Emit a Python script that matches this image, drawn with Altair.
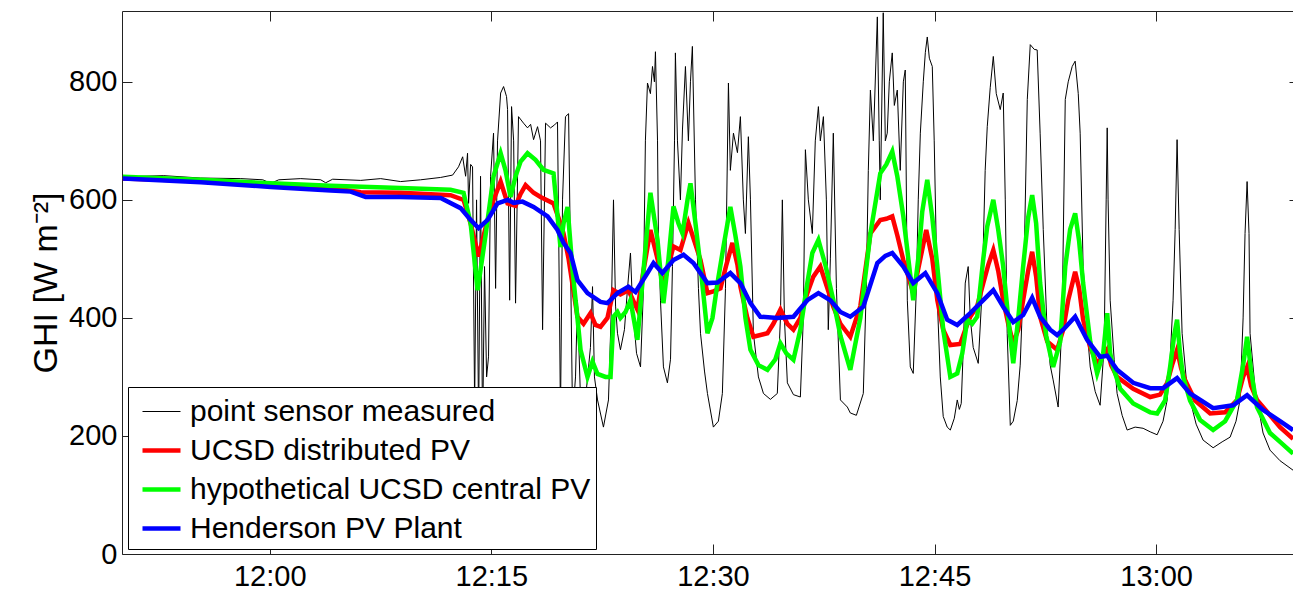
import altair as alt
import pandas as pd

SERIES = ["point sensor measured", "UCSD distributed PV",
          "hypothetical UCSD central PV", "Henderson PV Plant"]
COLORS = ["#000000", "#ff0000", "#00ff00", "#0000ff"]
WIDTHS = [1, 4.5, 4.5, 4.5]
Y_TICKS = [0, 200, 400, 600, 800]
X_TICK_MIN = [0, 15, 30, 45, 60]  # minutes after 12:00 -> 12:00 ... 13:00

# (minutes after 12:00, GHI W m-2)
BLACK = [(-9.94, 638), (-8.73, 640), (-7.17, 641), (-4.67, 637), (-1.96, 636), (-0.47, 634), (0.07, 628),
         (0.61, 634), (2.10, 636), (3.45, 634), (3.79, 629), (4.26, 635), (6.16, 633), (7.51, 636), (8.86, 631),
         (10.21, 634), (11.57, 638), (12.38, 642), (12.78, 656), (13.06, 673), (13.26, 640), (13.39, 679),
         (13.46, 594), (13.60, 660), (13.73, 656), (13.87, 250), (14.00, 600), (14.14, 220), (14.27, 640),
         (14.41, 200), (14.54, 487), (14.68, 300), (14.81, 334), (14.95, 640), (15.15, 713), (15.29, 450),
         (15.42, 700), (15.63, 781), (15.83, 792), (16.03, 775), (16.10, 753), (16.24, 430), (16.37, 758),
         (16.51, 700), (16.64, 425), (16.84, 741), (17.18, 730), (17.45, 722), (17.66, 728), (17.86, 702),
         (18.13, 724), (18.33, 700), (18.47, 380), (18.67, 730), (19.01, 722), (19.28, 727), (19.48, 732),
         (19.62, 400), (19.68, 230), (19.82, 600), (20.02, 741), (20.23, 746), (20.36, 500), (20.50, 230),
         (20.70, 300), (20.83, 430), (21.04, 260), (21.17, 230), (21.44, 280), (21.71, 350), (21.85, 453),
         (21.98, 300), (22.19, 261), (22.59, 215), (22.93, 261), (23.13, 420), (23.27, 600), (23.41, 420),
         (23.54, 374), (23.74, 346), (24.01, 380), (24.22, 450), (24.42, 510), (24.56, 420), (24.83, 340),
         (25.10, 317), (25.30, 450), (25.43, 700), (25.57, 798), (25.77, 780), (25.91, 826), (26.04, 800),
         (26.11, 851), (26.25, 700), (26.31, 543), (26.45, 430), (26.65, 317), (26.92, 290), (27.13, 330),
         (27.26, 487), (27.40, 700), (27.46, 849), (27.60, 700), (27.80, 600), (27.94, 720), (28.14, 826),
         (28.34, 700), (28.48, 800), (28.61, 860), (28.82, 600), (29.02, 450), (29.16, 374), (29.43, 310),
         (29.63, 272), (30.03, 215), (30.37, 225), (30.64, 272), (30.85, 450), (31.05, 798), (31.18, 650),
         (31.39, 713), (31.66, 680), (31.86, 741), (32.06, 600), (32.20, 543), (32.40, 707), (32.54, 600),
         (32.74, 374), (33.08, 300), (33.42, 272), (33.89, 262), (34.36, 272), (34.57, 400), (34.70, 600),
         (34.84, 400), (35.04, 290), (35.45, 270), (35.92, 266), (36.12, 400), (36.26, 685), (36.46, 600),
         (36.73, 543), (36.93, 700), (37.14, 758), (37.27, 700), (37.48, 741), (37.68, 600), (37.81, 380),
         (37.95, 500), (38.15, 713), (38.36, 450), (38.63, 261), (39.10, 249), (39.30, 239), (39.71, 235),
         (40.18, 272), (40.38, 450), (40.52, 650), (40.66, 786), (40.86, 700), (41.13, 910), (41.26, 700),
         (41.33, 600), (41.53, 917), (41.67, 700), (41.80, 713), (41.94, 800), (42.14, 849), (42.28, 760),
         (42.48, 786), (42.68, 650), (42.89, 800), (43.02, 820), (43.16, 430), (43.36, 317), (43.56, 306),
         (43.77, 450), (43.90, 600), (44.04, 713), (44.24, 800), (44.38, 850), (44.51, 876), (44.65, 840),
         (44.85, 826), (44.98, 700), (45.19, 430), (45.39, 300), (45.59, 233), (45.86, 215), (46.07, 210),
         (46.34, 230), (46.54, 261), (46.68, 245), (46.81, 255), (46.95, 350), (47.08, 459), (47.28, 487),
         (47.42, 400), (47.62, 350), (47.96, 323), (48.23, 450), (48.43, 650), (48.57, 724), (48.77, 790),
         (48.98, 843), (49.18, 780), (49.45, 753), (49.65, 781), (49.79, 600), (49.92, 374), (50.13, 218),
         (50.33, 225), (50.60, 260), (50.80, 320), (51.07, 500), (51.28, 770), (51.48, 863), (51.75, 855),
         (51.95, 854), (52.15, 713), (52.36, 550), (52.63, 374), (52.83, 320), (53.03, 295), (53.37, 249),
         (53.64, 400), (53.85, 770), (54.05, 800), (54.32, 826), (54.52, 835), (54.73, 780), (54.86, 713),
         (55.06, 487), (55.33, 380), (55.54, 317), (55.88, 275), (56.21, 252), (56.48, 350), (56.62, 600),
         (56.69, 722), (56.75, 600), (56.89, 430), (57.16, 330), (57.36, 272), (57.70, 235), (58.04, 210),
         (58.58, 215), (59.12, 213), (59.60, 207), (60.07, 202), (60.47, 225), (60.75, 261), (60.95, 330),
         (61.15, 430), (61.29, 550), (61.42, 702), (61.56, 550), (61.76, 374), (62.03, 300), (62.30, 261),
         (62.71, 220), (63.18, 193), (63.86, 180), (64.47, 190), (65.01, 198), (65.41, 225), (65.68, 261),
         (65.89, 400), (66.02, 543), (66.16, 631), (66.29, 543), (66.36, 374), (66.70, 280), (67.24, 205),
         (67.71, 176), (68.39, 158), (69.27, 142)]

RED = [(-9.94, 636), (-4.67, 632), (0.07, 626), (4.13, 620), (6.16, 613), (8.86, 612), (12.24, 608), (13.12, 600),
       (13.60, 560), (14.14, 504), (14.68, 560), (15.15, 600), (15.63, 631), (16.10, 594), (16.64, 590),
       (16.98, 610), (17.32, 625), (17.86, 612), (18.33, 605), (19.21, 594), (19.68, 560), (19.89, 543),
       (20.23, 500), (20.83, 402), (21.24, 390), (21.71, 408), (22.05, 388), (22.39, 385), (22.86, 400),
       (23.27, 447), (23.74, 440), (24.28, 447), (24.89, 414), (25.30, 480), (25.77, 549), (26.25, 500),
       (26.65, 453), (26.99, 490), (27.33, 521), (27.80, 515), (28.34, 561), (28.75, 530), (29.16, 498),
       (29.63, 442), (30.03, 445), (30.51, 450), (30.91, 490), (31.32, 527), (31.66, 490), (31.86, 453),
       (32.33, 400), (32.74, 368), (33.69, 374), (34.09, 390), (34.57, 414), (35.04, 390), (35.45, 380),
       (35.92, 400), (36.39, 442), (36.80, 470), (37.27, 487), (37.75, 450), (38.15, 419), (38.63, 390),
       (39.30, 368), (39.98, 420), (40.66, 543), (41.33, 566), (41.74, 568), (42.14, 572), (42.48, 540),
       (42.89, 498), (43.23, 470), (43.56, 442), (44.04, 500), (44.44, 549), (44.85, 500), (45.19, 430),
       (45.59, 380), (46.07, 354), (46.74, 356), (47.08, 380), (47.42, 402), (47.89, 420), (48.30, 459),
       (48.64, 490), (48.98, 515), (49.31, 480), (49.65, 430), (49.99, 390), (50.33, 357), (50.67, 380),
       (51.00, 430), (51.34, 480), (51.61, 512), (51.88, 470), (52.15, 402), (52.63, 360), (53.30, 346),
       (53.71, 380), (54.05, 430), (54.52, 478), (54.79, 450), (55.06, 397), (55.54, 350), (56.01, 323),
       (56.42, 335), (56.69, 346), (56.96, 320), (57.36, 300), (58.45, 280), (59.60, 266), (60.27, 270),
       (60.75, 290), (61.08, 320), (61.42, 346), (61.69, 315), (61.96, 295), (62.64, 260), (63.66, 238),
       (64.67, 240), (65.48, 261), (65.89, 300), (66.16, 317), (66.43, 285), (66.83, 261), (67.71, 235),
       (68.39, 215), (69.27, 195)]

GREEN = [(-9.94, 639), (-4.67, 634), (0.07, 628), (4.13, 624), (8.86, 620), (12.24, 617), (13.12, 612),
         (13.60, 560), (14.07, 447), (14.61, 540), (15.15, 640), (15.63, 679), (15.96, 650), (16.30, 605),
         (16.64, 640), (16.98, 665), (17.45, 679), (17.99, 668), (18.53, 651), (19.21, 645), (19.68, 520),
         (19.89, 560), (20.16, 588), (20.50, 480), (20.83, 400), (21.04, 346), (21.51, 300), (21.85, 326),
         (22.19, 305), (22.73, 300), (23.07, 300), (23.27, 402), (23.54, 410), (23.74, 400), (24.08, 410),
         (24.42, 430), (24.89, 363), (25.30, 480), (25.77, 612), (26.25, 532), (26.65, 425), (26.99, 500),
         (27.33, 589), (27.67, 560), (27.94, 543), (28.28, 600), (28.48, 628), (28.82, 560), (29.16, 487),
         (29.63, 374), (29.97, 400), (30.31, 459), (30.71, 520), (31.18, 588), (31.52, 540), (31.86, 487),
         (32.20, 400), (32.54, 346), (33.08, 320), (33.69, 312), (34.23, 330), (34.57, 357), (34.97, 340),
         (35.45, 329), (35.92, 380), (36.39, 459), (36.73, 510), (37.14, 532), (37.61, 490), (38.15, 430),
         (38.63, 370), (39.30, 312), (39.98, 400), (40.66, 543), (41.33, 645), (41.74, 660), (42.14, 682),
         (42.48, 640), (42.89, 572), (43.23, 500), (43.56, 430), (43.90, 500), (44.17, 580), (44.51, 634),
         (44.85, 570), (45.19, 487), (45.59, 380), (46.07, 300), (46.54, 306), (46.88, 340), (47.22, 397),
         (47.55, 390), (47.89, 402), (48.30, 500), (48.57, 555), (48.98, 600), (49.31, 550), (49.65, 487),
         (49.99, 400), (50.33, 323), (50.67, 400), (51.00, 487), (51.34, 570), (51.61, 608), (51.88, 560),
         (52.15, 459), (52.56, 370), (53.03, 317), (53.51, 360), (53.85, 487), (54.18, 550), (54.52, 577),
         (54.79, 530), (55.06, 459), (55.54, 360), (56.01, 306), (56.42, 340), (56.69, 408), (56.89, 340),
         (57.09, 317), (57.57, 280), (58.45, 255), (59.60, 240), (60.07, 238), (60.61, 260), (60.95, 317),
         (61.22, 370), (61.42, 397), (61.62, 340), (61.83, 300), (62.30, 260), (62.98, 227), (63.86, 210),
         (64.67, 225), (65.48, 261), (65.89, 320), (66.16, 368), (66.43, 310), (66.83, 249), (67.71, 205),
         (68.39, 190), (69.27, 170)]

BLUE = [(-9.94, 636), (-4.67, 630), (0.07, 622), (4.13, 616), (5.48, 614), (6.49, 605), (8.86, 605),
        (11.57, 603), (12.92, 586), (13.60, 566), (14.14, 552), (14.75, 566), (15.42, 594), (16.10, 600),
        (16.51, 595), (17.11, 597), (17.86, 588), (18.81, 572), (19.48, 549), (19.89, 527), (20.36, 510),
        (20.83, 464), (21.51, 442), (22.39, 427), (22.86, 425), (23.54, 442), (24.28, 453), (24.76, 444),
        (25.57, 476), (25.98, 493), (26.58, 476), (27.33, 498), (28.01, 507), (28.68, 493), (29.63, 459),
        (30.31, 460), (31.18, 476), (31.86, 459), (32.54, 425), (33.21, 402), (34.36, 400), (35.45, 402),
        (36.39, 430), (37.14, 442), (37.95, 430), (38.63, 410), (39.30, 402), (40.18, 419), (41.13, 493),
        (41.67, 505), (42.14, 510), (42.89, 487), (43.56, 459), (44.38, 476), (45.19, 442), (45.86, 397),
        (46.54, 388), (47.42, 408), (48.30, 430), (48.98, 447), (49.65, 419), (50.33, 393), (51.00, 405),
        (51.61, 434), (52.15, 402), (52.83, 380), (53.30, 371), (53.71, 380), (54.52, 402), (55.33, 363),
        (56.21, 334), (56.69, 336), (57.36, 312), (58.45, 290), (59.60, 281), (60.47, 281), (61.42, 298),
        (62.30, 272), (63.86, 247), (65.21, 252), (66.16, 269), (67.24, 244), (68.39, 225), (69.27, 210)]

NOON = pd.Timestamp("2013-06-01 12:00:00")


def frame(pairs, name):
    mins = [p[0] for p in pairs]
    vals = [p[1] for p in pairs]
    return pd.DataFrame({
        "time": NOON + pd.to_timedelta(mins, unit="min"),
        "ghi": vals,
        "series": name,
    })


def dt(h, m, s=0):
    return alt.DateTime(year=2013, month=6, date=1, hours=h, minutes=m, seconds=s)


x_scale = alt.Scale(domain=[dt(11, 50), dt(13, 9, 16)])
y_scale = alt.Scale(domain=[0, 920], nice=False, zero=False)
x_vals = [dt(12 + mm // 60, mm % 60) for mm in X_TICK_MIN]

legend = alt.Legend(
    title=None, orient="none", legendX=6, legendY=376, direction="vertical",
    fillColor="white", strokeColor="black", padding=5,
    symbolType="stroke", symbolSize=1444, symbolOffset=7,
    labelFont="Liberation Sans", labelFontSize=30, labelColor="black",
    labelOffset=7, labelLimit=700, rowPadding=2,
)
color = alt.Color("series:N", scale=alt.Scale(domain=SERIES, range=COLORS), legend=legend)
swidth = alt.StrokeWidth("series:N", scale=alt.Scale(type="ordinal", domain=SERIES, range=WIDTHS),
                         legend=legend)

x_main = alt.X("time:T", scale=x_scale, title=None,
               axis=alt.Axis(orient="bottom", values=x_vals, format="%H:%M", offset=-10, tickSize=10,
                             labelPadding=8, domain=False, grid=False))
y_main = alt.Y("ghi:Q", scale=y_scale,
               axis=alt.Axis(orient="left", values=Y_TICKS, offset=-10, tickSize=10, labelPadding=5,
                             title="GHI [W m⁻²]", titleFontSize=34, titleFontWeight="normal",
                             titlePadding=5, domain=False, grid=False))
x_top = alt.X("time:T", scale=x_scale, title=None,
              axis=alt.Axis(orient="top", values=x_vals, offset=-10, tickSize=10, labels=False,
                            domain=False, grid=False, title=None))
y_right = alt.Y("ghi:Q", scale=y_scale,
                axis=alt.Axis(orient="right", values=Y_TICKS, offset=-4, tickSize=4, labels=False,
                              domain=False, grid=False, title=None))
x_none = alt.X("time:T", scale=x_scale, axis=None)
y_none = alt.Y("ghi:Q", scale=y_scale, axis=None)

black = alt.Chart(frame(BLACK, SERIES[0])).mark_line(clip=True).encode(
    x=x_main, y=y_main, color=color, strokeWidth=swidth)
red = alt.Chart(frame(RED, SERIES[1])).mark_line(clip=True).encode(
    x=x_top, y=y_right, color=color, strokeWidth=swidth)
green = alt.Chart(frame(GREEN, SERIES[2])).mark_line(clip=True).encode(
    x=x_none, y=y_none, color=color, strokeWidth=swidth)
blue = alt.Chart(frame(BLUE, SERIES[3])).mark_line(clip=True).encode(
    x=x_none, y=y_none, color=color, strokeWidth=swidth)

chart = alt.layer(black, red, green, blue).resolve_axis(
    x="independent", y="independent"
).properties(
    width=1171, height=543,
    autosize=alt.AutoSizeParams(type="none"),
    padding={"left": 122, "top": 11, "right": 0, "bottom": 36},
    background="white",
).configure_view(
    stroke="#222222", strokeWidth=1
).configure_axis(
    labelFont="Liberation Sans", labelFontSize=29, labelColor="black",
    tickColor="#222222", titleFont="Liberation Sans", titleColor="black",
)

chart.save("out.html", embed_options={"renderer": "svg", "actions": False})
